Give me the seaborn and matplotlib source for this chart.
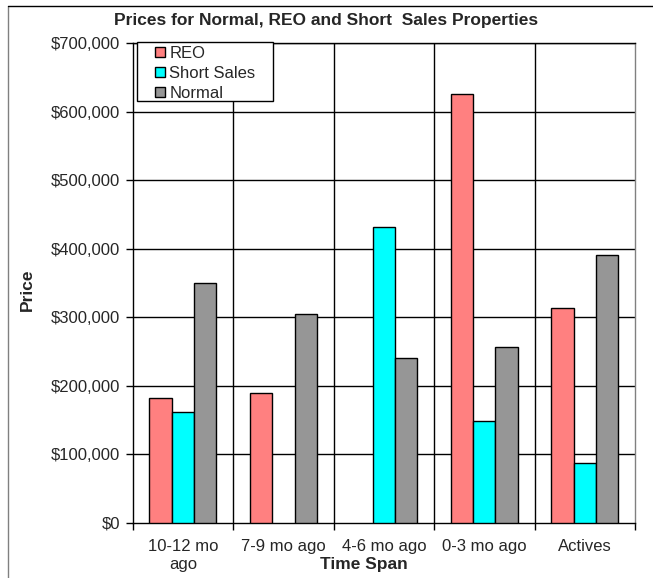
import numpy as np
import pandas as pd
import matplotlib
matplotlib.use("Agg")
import matplotlib.pyplot as plt
from matplotlib.ticker import FuncFormatter, FixedLocator
from matplotlib.lines import Line2D
from matplotlib.patches import Rectangle
import seaborn as sns

# values
time_spans = ["10-12 mo\nago", "7-9 mo ago", "4-6 mo ago", "0-3 mo ago", "Actives"]
reo = [182000, 189000, np.nan, 626000, 314000]
short_sales = [161000, np.nan, 431000, 149000, 87000]
normal = [350000, 305000, 241000, 257000, 391000]

series_names = ["REO", "Short Sales", "Normal"]
colors = {"REO": "#FF8080", "Short Sales": "#00FFFF", "Normal": "#969696"}

df = pd.DataFrame({
    "Time Span": time_spans * 3,
    "Type": [s for s in series_names for _ in time_spans],
    "Price": reo + short_sales + normal,
})

sns.set_style("white")
plt.rcParams["font.family"] = ["Liberation Sans", "DejaVu Sans"]

W, H = 653, 578
fig = plt.figure(figsize=(W / 100, H / 100), dpi=100)
ax_l, ax_r, ax_t, ax_b = 132.7, 635, 43, 522.7
ax = fig.add_axes([ax_l / W, 1 - ax_b / H, (ax_r - ax_l) / W, (ax_b - ax_t) / H])

sns.barplot(data=df, x="Time Span", y="Price", hue="Type", hue_order=series_names,
            order=time_spans, palette=colors, width=0.667, gap=0,
            edgecolor="black", linewidth=1.0, saturation=1, errorbar=None,
            ax=ax, zorder=3, legend=False)

ax.set_ylim(0, 700000)
ax.set_xlim(-0.5, len(time_spans) - 0.5)
ax.yaxis.set_major_locator(FixedLocator(np.arange(0, 700001, 100000)))
ax.yaxis.set_major_formatter(FuncFormatter(lambda v, p: f"${v:,.0f}"))
ax.tick_params(axis="y", which="major", direction="out", length=5, width=1,
               color="black", labelsize=12, pad=4, left=True)

# category boundaries: gridlines and ticks
bounds = np.arange(len(time_spans) + 1) - 0.5
ax.set_xticks(bounds, minor=True)
ax.tick_params(axis="x", which="minor", direction="out", length=5, width=1,
               color="black", bottom=True)
ax.tick_params(axis="x", which="major", length=0, labelsize=12, pad=11.5)
for lab in ax.get_xticklabels():
    lab.set_linespacing(1.3)
ax.grid(False)
for b in bounds[1:-1]:
    ax.axvline(b, color="black", lw=1, zorder=1)
for v in np.arange(100000, 700001, 100000):
    ax.axhline(v, color="black", lw=1, zorder=1)

for side in ["left", "bottom", "top"]:
    ax.spines[side].set_color("black")
    ax.spines[side].set_linewidth(1)
ax.spines["right"].set_color("#808080")
ax.spines["right"].set_linewidth(1)

ax.set_xlabel("Time Span", fontsize=12.5, fontweight="bold")
ax.xaxis.set_label_coords((364 - ax_l) / (ax_r - ax_l), -(564 - ax_b) / (ax_b - ax_t))
ax.xaxis.label.set_va("center")
ax.set_ylabel("Price", fontsize=12.5, fontweight="bold")
ax.yaxis.set_label_coords(-(ax_l - 27) / (ax_r - ax_l), (ax_b - 290) / (ax_b - ax_t))
ax.yaxis.label.set_va("center")

# legend box (Excel style, square frame)
def ax_x(px):
    return (px - ax_l) / (ax_r - ax_l)

def ax_y(py):
    return (ax_b - py) / (ax_b - ax_t)

ax.add_patch(Rectangle((ax_x(137), ax_y(101)), ax_x(273) - ax_x(137), ax_y(42) - ax_y(101),
                       transform=ax.transAxes, facecolor="white", edgecolor="black",
                       lw=1, zorder=6, clip_on=False))
handles = [Line2D([], [], marker="s", linestyle="none", markersize=7,
                  markerfacecolor=colors[s], markeredgecolor="black",
                  markeredgewidth=1) for s in series_names]
leg = ax.legend(handles, series_names, loc="upper left",
                bbox_to_anchor=(ax_x(151), ax_y(43)), fontsize=12, frameon=False,
                borderpad=0.15, labelspacing=0.32, handletextpad=0.15,
                handlelength=0.8, borderaxespad=0)
leg.set_zorder(7)

fig.text(0.5, 1 - 20 / H, "Prices for Normal, REO and Short  Sales Properties",
         ha="center", va="center", fontsize=12.5, fontweight="bold")

# outer chart border
fig.add_artist(Line2D([7.5 / W, 7.5 / W], [0, 1 - 5.7 / H],
                      transform=fig.transFigure, color="#808080", lw=1))
fig.add_artist(Line2D([7.5 / W, 1], [1 - 5.7 / H, 1 - 5.7 / H],
                      transform=fig.transFigure, color="black", lw=1))

fig.savefig("out.png", dpi=100)
